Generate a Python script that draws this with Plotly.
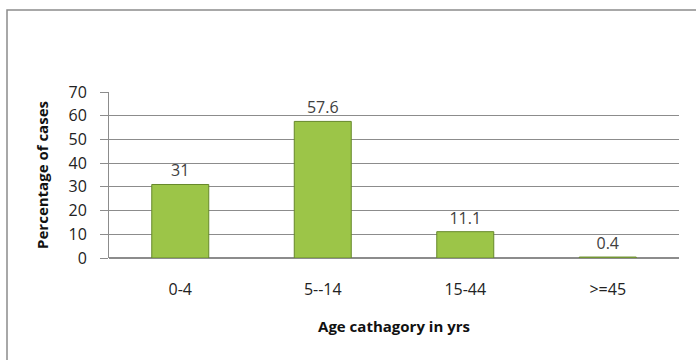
import plotly.graph_objects as go

categories = ["0-4", "5--14", "15-44", ">=45"]
values = [31, 57.6, 11.1, 0.4]
value_labels = ["31", "57.6", "11.1", "0.4"]
y_ticks = [0, 10, 20, 30, 40, 50, 60, 70]

W, H = 696, 360
L, R, T, B = 109, 17, 92, 102
FONT = "Open Sans, sans-serif"

fig = go.Figure()
fig.add_trace(go.Bar(
    x=categories, y=values, width=0.4,
    marker=dict(color="#9cc548", line=dict(color="#66882a", width=1)),
    text=value_labels, textposition="outside", cliponaxis=False,
    textfont=dict(family=FONT, size=16, color="#404040"),
))

pw, ph = W - L - R, H - T - B
fig.add_shape(type="rect", xref="paper", yref="paper",
              x0=(7 - L) / pw, x1=(W + 5 - L) / pw,
              y0=-(H + 5 - T - ph) / ph, y1=(H - B - 10) / ph,
              line=dict(color="#8c8c8c", width=1.5), layer="below")

fig.update_layout(
    width=W, height=H, margin=dict(l=L, r=R, t=T, b=B),
    paper_bgcolor="white", plot_bgcolor="white", showlegend=False,
    font=dict(family=FONT, size=16, color="#222"),
    xaxis=dict(showgrid=False, showline=False, ticks="", zeroline=False,
               tickfont=dict(family=FONT, size=16, color="#222"),
               ticklabelstandoff=20,
               title=dict(text="<b>Age cathagory in yrs</b>", standoff=22,
                          font=dict(family=FONT, size=15, color="#111"))),
    yaxis=dict(range=[0, 70], tickvals=y_ticks, showgrid=True, gridcolor="#8c8c8c",
               gridwidth=1, showline=True, linecolor="#8c8c8c", ticks="outside",
               ticklen=8, tickcolor="#8c8c8c", zeroline=True, zerolinecolor="#8c8c8c",
               tickfont=dict(family=FONT, size=16, color="#222"),
               ticklabelstandoff=10,
               title=dict(text="<b>Percentage of cases</b>", standoff=16,
                          font=dict(family=FONT, size=15, color="#111"))),
    bargap=0.6,
)

fig.write_html("out.html")
